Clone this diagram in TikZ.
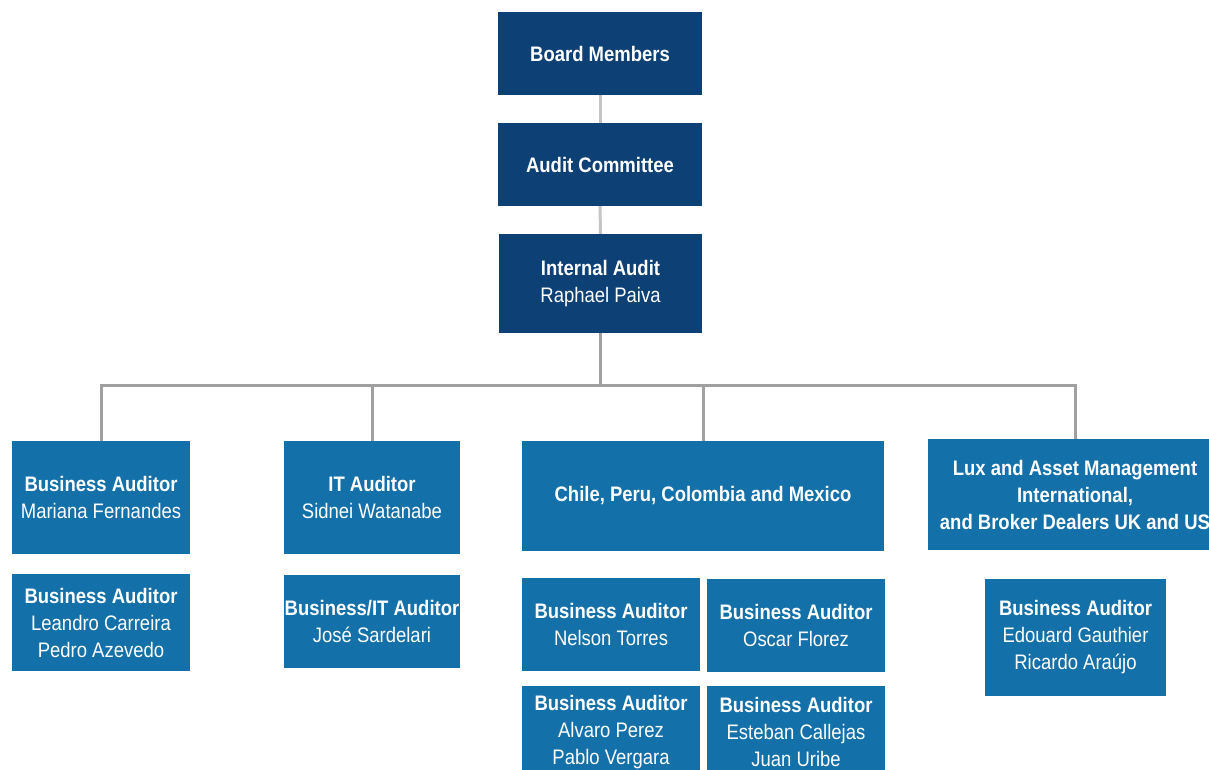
\documentclass[tikz,border=0pt]{standalone}
\usepackage{fontspec}
\setmainfont{Liberation Sans}[FakeStretch=0.88]
\definecolor{navy}{RGB}{13,64,117}
\definecolor{midblue}{RGB}{20,112,168}
\definecolor{lightline}{RGB}{196,196,196}
\definecolor{busline}{RGB}{160,160,160}
\tikzset{
  box/.style={fill=#1, text=white, inner sep=0pt, align=center,
    font=\fontsize{21}{27}\selectfont},
  topbox/.style={box=navy},
  subbox/.style={box=midblue},
  link/.style={draw=lightline, line width=3pt},
  bus/.style={draw=busline, line width=3pt}
}
\begin{document}
\begin{tikzpicture}[x=1pt,y=-1pt]
\useasboundingbox (0,0) rectangle (1209,769);
\clip (0,0) rectangle (1209,769);
% top chain
\node[topbox, minimum width=204pt, minimum height=83pt] (board) at (600,53.5) {\textbf{Board Members}};
\node[topbox, minimum width=204pt, minimum height=83pt] (audit) at (600,164.5) {\textbf{Audit Committee}};
\node[topbox, minimum width=203pt, minimum height=99pt] (internal) at (600.5,283.5) {\textbf{Internal Audit}\\Raphael Paiva};
% second row
\node[subbox, minimum width=178pt, minimum height=113pt] (ba1) at (101,497.5) {\textbf{Business Auditor}\\Mariana Fernandes};
\node[subbox, minimum width=176pt, minimum height=113pt] (it) at (372,497.5) {\textbf{IT Auditor}\\Sidnei Watanabe};
\node[subbox, minimum width=362pt, minimum height=110pt] (chile) at (703,496) {\textbf{Chile, Peru, Colombia and Mexico}};
\node[subbox, minimum width=294pt, minimum height=111pt] (lux) at (1075,494.5) {\textbf{Lux and Asset Management}\\\textbf{International,}\\\textbf{and Broker Dealers UK and US}};
% lower boxes
\node[subbox, minimum width=178pt, minimum height=97pt] (ba2) at (101,622.5) {\textbf{Business Auditor}\\Leandro Carreira\\Pedro Azevedo};
\node[subbox, minimum width=176pt, minimum height=93pt] (bit) at (372,621.5) {\textbf{Business/IT Auditor}\\José Sardelari};
\node[subbox, minimum width=178pt, minimum height=93pt] (nelson) at (611,624.5) {\textbf{Business Auditor}\\Nelson Torres};
\node[subbox, minimum width=178pt, minimum height=93pt] (oscar) at (796,625.5) {\textbf{Business Auditor}\\Oscar Florez};
\node[subbox, minimum width=178pt, minimum height=92pt] (alvaro) at (611,732) {\textbf{Business Auditor}\\Alvaro Perez\\Pablo Vergara};
\node[subbox, minimum width=178pt, minimum height=92pt] (esteban) at (796,732) {\textbf{Business Auditor}\\Esteban Callejas\\Juan Uribe};
\node[subbox, minimum width=181pt, minimum height=117pt] (edouard) at (1075.5,637.5) {\textbf{Business Auditor}\\Edouard Gauthier\\Ricardo Araújo};
% connectors
\draw[link] (board.south) -- (audit.north);
\draw[link] (audit.south) -- (internal.south |- internal.north);
\coordinate (bus) at (600.5,385);
\draw[bus] (internal.south) -- (bus);
\draw[bus] (bus) -| (ba1.north);
\draw[bus] (bus) -| (it.north);
\draw[bus] (bus) -| (chile.north);
\draw[bus] (bus) -| (lux.north);
\end{tikzpicture}
\end{document}
